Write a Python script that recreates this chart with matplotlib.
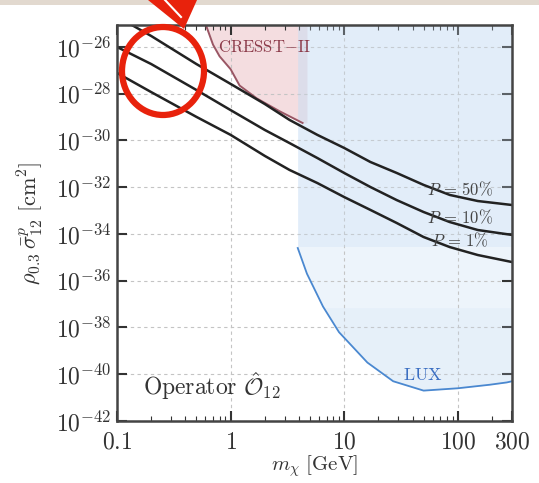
import numpy as np
import matplotlib
matplotlib.use("Agg")
import matplotlib.pyplot as plt
from matplotlib.patches import Ellipse, Polygon, Rectangle
from matplotlib.ticker import LogLocator, NullFormatter, NullLocator

plt.rcParams["mathtext.fontset"] = "cm"
plt.rcParams["font.family"] = "serif"
plt.rcParams["font.serif"] = ["DejaVu Serif"]

# dark matter mass [GeV] where the three limit curves were read
mass = [0.1, 0.2, 0.5, 1, 2, 3.3, 5.8, 10, 17, 29, 50, 85, 150, 300]
# log10 of cross section for each probability curve
exp_p50 = [-24.7, -25.53, -26.73, -27.58, -28.44, -29.12, -29.76, -30.32, -30.92, -31.39, -31.90, -32.33, -32.59, -32.76]
exp_p10 = [-26.0, -26.73, -27.84, -28.70, -29.55, -30.11, -30.75, -31.39, -31.99, -32.55, -33.06, -33.49, -33.83, -34.04]
exp_p1 = [-27.11, -27.93, -28.99, -29.76, -30.66, -31.26, -31.82, -32.42, -32.97, -33.53, -34.13, -34.56, -34.90, -35.20]
curve_labels = [r"$P\,=\,50\%$", r"$P\,=\,10\%$", r"$P\,=\,1\%$"]
label_exp = [-32.1, -33.3, -34.3]

# CRESST-II exclusion boundary
cresst_mass = [0.6, 0.7, 0.8, 1.0, 1.2, 1.7, 2.7, 4.3, 4.7]
cresst_exp = [-25.0, -25.9, -26.4, -26.95, -27.65, -28.2, -28.75, -29.25, -29.25]

# LUX exclusion boundary
lux_mass = [3.9, 4.7, 6.5, 9, 16, 27, 50, 100, 190, 270, 300]
lux_exp = [-34.6, -35.7, -37.1, -38.2, -39.5, -40.3, -40.7, -40.6, -40.45, -40.35, -40.3]

xticks = [0.1, 1, 10, 100, 300]
xtick_labels = ["0.1", "1", "10", "100", "300"]
ytick_exp = list(range(-42, -25, 2))

ytop = 10 ** -25.06

fig = plt.figure(figsize=(5.39, 4.83), dpi=100)
ax = fig.add_axes([117 / 539, 1 - 421 / 483, 395 / 539, 396 / 483])
ax.set_xscale("log")
ax.set_yscale("log")

cm_sig = 10.0 ** np.array(cresst_exp)
ax.fill_between(cresst_mass, cm_sig, ytop, color="#f4dde0", lw=0, zorder=1)
ax.plot(cresst_mass[:-1], cm_sig[:-1], color="#9a5664", lw=1.4, zorder=2)

blue = "#c8def5"
lux_sig = 10.0 ** np.array(lux_exp)
ax.fill_between(lux_mass, lux_sig, ytop, color=blue, alpha=0.32, lw=0, zorder=1.5)
ax.fill_between([lux_mass[0], lux_mass[-1]], 10 ** -34.55, ytop, color=blue, alpha=0.28, lw=0, zorder=1.6)
ax.fill_between(lux_mass, lux_sig, 10 ** -37.15, where=lux_sig < 10 ** -37.15,
                interpolate=True, color=blue, alpha=0.18, lw=0, zorder=1.6)
ax.plot(lux_mass, lux_sig, color="#4a88d0", lw=1.3, zorder=2)

for e in [exp_p50, exp_p10, exp_p1]:
    ax.plot(mass, 10.0 ** np.array(e), color="#222222", lw=1.8, zorder=3)

for lab, ly in zip(curve_labels, label_exp):
    ax.text(105, 10 ** ly, lab, ha="center", va="center", fontsize=12, color="#444444", zorder=4)

ax.text(2.0, 10 ** -26.04, r"$\mathrm{CRESST{-}II}$", ha="center", va="center",
        fontsize=12, color="#8c3b4a", zorder=4)
ax.text(49, 10 ** -40.03, r"$\mathrm{LUX}$", ha="center", va="center",
        fontsize=13, color="#3c6fc2", zorder=4)
ax.text(0.066, 0.066, r"$\mathrm{Operator}\ \hat{\mathcal{O}}_{12}$", transform=ax.transAxes,
        ha="left", va="baseline", fontsize=17, color="#333333", zorder=4)

ax.set_xlim(0.1, 300)
ax.set_ylim(1e-42, ytop)
ax.set_xticks(xticks)
ax.set_xticklabels(["$" + t + "$" for t in xtick_labels])
ax.xaxis.set_minor_locator(LogLocator(base=10, subs=np.arange(2, 10)))
ax.xaxis.set_minor_formatter(NullFormatter())
ax.set_yticks([10.0 ** k for k in ytick_exp])
ax.set_yticklabels([r"$10^{%d}$" % k for k in ytick_exp])
ax.yaxis.set_minor_locator(NullLocator())
ax.tick_params(which="both", direction="in", top=True, right=True, colors="#333333")
ax.tick_params(which="major", length=7, width=1.5, labelsize=17)
ax.tick_params(axis="x", which="major", pad=7)
ax.tick_params(axis="y", which="major", pad=4)
ax.tick_params(which="minor", length=3.5, width=0.8)
ax.grid(True, which="major", ls=(0, (3, 3)), color="#c4c4c4", lw=0.8)
for s in ax.spines.values():
    s.set_color("#444444")
    s.set_linewidth(1.8)
    s.set_zorder(5)

ax.set_xlabel(r"$m_\chi\ [\mathrm{GeV}]$", fontsize=15, color="#333333", labelpad=0)
ax.set_ylabel(r"$\rho_{0.3}\,\bar{\sigma}^{p}_{12}\ [\mathrm{cm}^2]$", fontsize=16,
              color="#333333", labelpad=8)

# red highlight drawn over the figure
fig.add_artist(Ellipse((163 / 539, 1 - 71 / 483), 82 / 539, 88 / 483, transform=fig.transFigure,
                       fill=False, ec="#e8220c", lw=4.5, zorder=10))
fig.add_artist(Polygon([(148 / 539, 1), (197 / 539, 1), (184 / 539, 1 - 29 / 483)],
                       closed=True, transform=fig.transFigure, fc="#e8220c", ec="none", zorder=10))
fig.add_artist(plt.Line2D([165 / 539, 181 / 539], [1, 1 - 17 / 483], transform=fig.transFigure,
                          color="white", lw=1.5, zorder=11))
fig.add_artist(Rectangle((0, 1 - 5 / 483), 1, 5 / 483, transform=fig.transFigure,
                         fc="#e2d9cf", ec="none", zorder=9))

fig.savefig("out.png", dpi=100)
